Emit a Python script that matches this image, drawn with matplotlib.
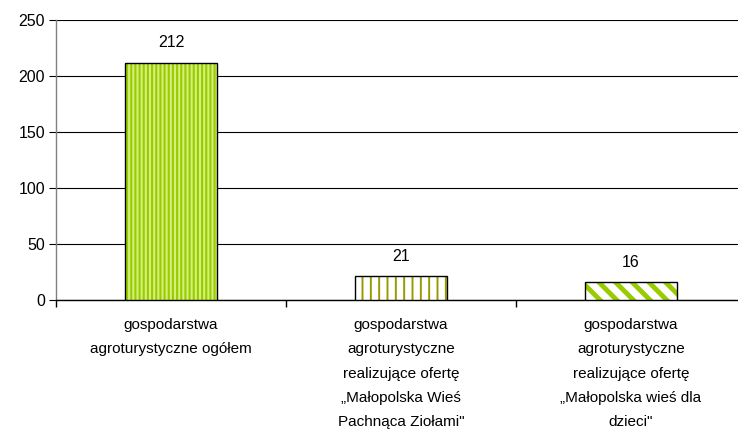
import matplotlib
matplotlib.use("Agg")
import matplotlib.pyplot as plt

plt.rcParams['font.family'] = ['Liberation Sans', 'DejaVu Sans']

categories = [
    "gospodarstwa\nagroturystyczne ogółem",
    "gospodarstwa\nagroturystyczne\nrealizujące ofertę\n„Małopolska Wieś\nPachnąca Ziołami\"",
    "gospodarstwa\nagroturystyczne\nrealizujące ofertę\n„Małopolska wieś dla\ndzieci\"",
]
values = [212, 21, 16]
y_ticks = [0, 50, 100, 150, 200, 250]

# fill, hatch colour, hatch pattern, hatch line width
styles = [
    ("#d4f07a", "#99cc00", "||||", 1.5),
    ("#ffffff", "#999900", "||", 1.4),
    ("#ffffff", "#99cc00", "\\\\", 3.5),
]

W, H = 738, 434
fig = plt.figure(figsize=(W / 100, H / 100), dpi=100)
ax = fig.add_axes([56 / W, (H - 300) / H, 690 / W, 280 / H])

x = list(range(len(values)))
bw = 0.404
for xi, v, (fc, hc, hatch, hlw) in zip(x, values, styles):
    plt.rcParams['hatch.linewidth'] = hlw
    b = ax.bar(xi, v, width=bw, color=fc, edgecolor=hc, hatch=hatch,
               linewidth=0, zorder=3)
    for p in b:
        try:
            p.set_hatch_linewidth(hlw)
        except AttributeError:
            pass
    ax.bar(xi, v, width=bw, fill=False, edgecolor="black", linewidth=1.0,
           zorder=4)
    ax.annotate(str(v), (xi, v), xytext=(0, 9), textcoords="offset points",
                ha="center", va="bottom", fontsize=11.5, color="black")

ax.set_xlim(-0.5, 2.5)
ax.set_ylim(0, 250)
ax.set_yticks(y_ticks)
ax.set_yticklabels([str(t) for t in y_ticks], fontsize=11.5)
ax.yaxis.grid(True, color="black", linewidth=0.8, zorder=0)
ax.set_axisbelow(True)

# category boundary ticks on x, labels centred between
ax.set_xticks([-0.5, 0.5, 1.5, 2.5])
ax.set_xticklabels([])
ax.set_xticks(x, minor=True)
ax.set_xticklabels(categories, minor=True, fontsize=11, linespacing=1.93,
                   va="top")
ax.tick_params(axis="x", which="minor", length=0, pad=13)
ax.tick_params(axis="x", which="major", length=5, width=1.0, color="black",
               direction="out")
ax.tick_params(axis="y", length=5, width=0.8, color="black", pad=3)

for s in ("top", "right"):
    ax.spines[s].set_visible(False)
ax.spines["left"].set_color("#808080")
ax.spines["left"].set_linewidth(1.0)
ax.spines["bottom"].set_color("black")
ax.spines["bottom"].set_linewidth(1.0)

fig.savefig("out.png", dpi=100)
